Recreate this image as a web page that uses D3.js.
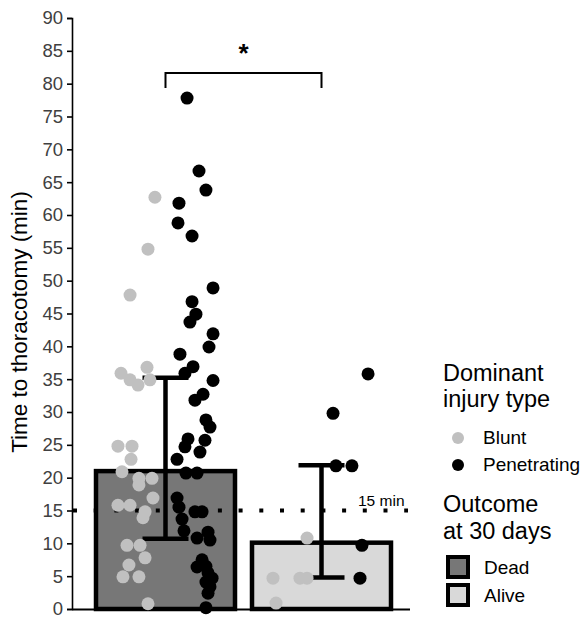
<!DOCTYPE html>
<html>
<head>
<meta charset="utf-8">
<script src="https://cdn.jsdelivr.net/npm/d3@7"></script>
<style>
  body { margin: 0; background: #fff; }
  text { font-family: "Liberation Sans", Arial, sans-serif; }
</style>
</head>
<body>
<div id="T"></div>
<script>
// groups + summary stats
const groups = ["Dead", "Alive"];
const means = [21.0, 10.1];
const errLow = [10.7, 4.8];
const errHigh = [35.2, 21.9];
const yTicks = d3.range(0, 91, 5);
const threshold = 15;

// individual patients: [minutes, jitter as fraction of bar width]
const deadBlunt = [[62.7,-0.076],[54.8,-0.126],[47.8,-0.255],[36.8,-0.133],[35.9,-0.32],[34.9,-0.255],
  [34.1,-0.198],[34.9,-0.112],[24.8,-0.342],[24.8,-0.241],[22.8,-0.248],[20.9,-0.313],[19.9,-0.191],
  [19.9,-0.097],[18.9,-0.191],[16.9,-0.09],[15.8,-0.342],[15.8,-0.255],[14.8,-0.147],[13.9,-0.162],
  [9.7,-0.277],[9.7,-0.183],[7.8,-0.147],[6.7,-0.263],[4.9,-0.306],[4.9,-0.191],[0.8,-0.126]];
const deadPen = [[77.8,0.155],[66.7,0.241],[63.8,0.291],[61.8,0.097],[58.8,0.09],[56.8,0.191],
  [48.9,0.342],[46.8,0.191],[44.9,0.219],[43.7,0.176],[41.9,0.342],[39.9,0.313],[38.8,0.104],
  [36.9,0.198],[35.9,0.14],[34.8,0.342],[32.7,0.27],[31.8,0.212],[28.8,0.291],[27.7,0.32],
  [25.9,0.162],[25.7,0.284],[24.7,0.14],[23.9,0.248],[22.8,0.083],[20.7,0.147],[20.7,0.227],
  [16.9,0.083],[15.5,0.097],[14.8,0.212],[14.8,0.263],[13.7,0.119],[11.9,0.133],[11.7,0.306],
  [10.8,0.227],[10.5,0.32],[7.5,0.263],[6.5,0.291],[6.4,0.227],[5.5,0.306],[4.7,0.335],
  [4.1,0.291],[3.4,0.32],[2.4,0.306],[0.2,0.291]];
const aliveBlunt = [[10.8,-0.104],[4.7,-0.349],[4.7,-0.155],[4.7,-0.104],[0.9,-0.327]];
const alivePen = [[35.8,0.335],[29.8,0.083],[21.8,0.104],[21.8,0.219],[9.7,0.291],[4.7,0.277]];

const barFill = {Dead: "#777777", Alive: "#d9d9d9"};
const typeFill = {Blunt: "#c0c0c0", Penetrating: "#000000"};

const W = 585, H = 620;
const svg = d3.select("#T").append("svg").attr("width", W).attr("height", H);

const y = d3.scaleLinear().domain([0, 90]).range([609, 18]);
const x = d3.scaleBand().domain(groups).range([96, 391]).paddingInner(0.109).paddingOuter(0);
const bw = x.bandwidth();
const cx = g => x(g) + bw / 2;

// y axis
const yAxis = svg.append("g").attr("transform", "translate(72,0)")
  .call(d3.axisLeft(y).tickValues(yTicks).tickSize(5).tickPadding(4));
yAxis.select(".domain").attr("stroke", "#000").attr("stroke-width", 1.6);
yAxis.selectAll(".tick line").attr("stroke", "#000").attr("stroke-width", 1.6);
yAxis.selectAll(".tick text").attr("fill", "#404040").style("font-size", "18.5px")
  .style("font-family", "'Liberation Sans', Arial, sans-serif");

svg.append("text")
  .attr("transform", "translate(27,322) rotate(-90)")
  .attr("text-anchor", "middle")
  .style("font-size", "22.5px")
  .text("Time to thoracotomy (min)");

// bars
svg.selectAll("rect.bar").data(groups).join("rect")
  .attr("class", "bar")
  .attr("x", d => x(d))
  .attr("width", bw)
  .attr("y", (d, i) => y(means[i]))
  .attr("height", (d, i) => y(0) - y(means[i]))
  .attr("fill", d => barFill[d])
  .attr("stroke", "#000")
  .attr("stroke-width", 4.5);

// baseline
svg.append("line").attr("x1", 72).attr("x2", 410).attr("y1", y(0) + 0.5).attr("y2", y(0) + 0.5)
  .attr("stroke", "#000").attr("stroke-width", 2);

// 15 min threshold
svg.append("line")
  .attr("x1", 73).attr("x2", 408)
  .attr("y1", y(threshold)).attr("y2", y(threshold))
  .attr("stroke", "#000").attr("stroke-width", 4)
  .attr("stroke-dasharray", "4 16.7");
svg.append("text").attr("x", 358).attr("y", y(threshold) - 5)
  .style("font-size", "15.5px").text("15 min");

// error bars
const eb = svg.append("g").attr("stroke", "#000").attr("stroke-width", 4.5);
groups.forEach((g, i) => {
  eb.append("line").attr("x1", cx(g)).attr("x2", cx(g)).attr("y1", y(errLow[i])).attr("y2", y(errHigh[i]));
  [errLow[i], errHigh[i]].forEach(v => {
    eb.append("line").attr("x1", cx(g) - 23).attr("x2", cx(g) + 23).attr("y1", y(v)).attr("y2", y(v));
  });
});

// points
const pts = [];
deadBlunt.forEach(p => pts.push({g: "Dead", t: "Blunt", v: p[0], j: p[1]}));
deadPen.forEach(p => pts.push({g: "Dead", t: "Penetrating", v: p[0], j: p[1]}));
aliveBlunt.forEach(p => pts.push({g: "Alive", t: "Blunt", v: p[0], j: p[1]}));
alivePen.forEach(p => pts.push({g: "Alive", t: "Penetrating", v: p[0], j: p[1]}));
svg.selectAll("circle.pt").data(pts).join("circle")
  .attr("class", "pt")
  .attr("cx", d => cx(d.g) + d.j * bw)
  .attr("cy", d => y(d.v))
  .attr("r", 6.5)
  .attr("fill", d => typeFill[d.t]);

// significance bracket
const by = 73;
svg.append("path")
  .attr("d", `M${cx("Dead")},${by + 15}V${by}H${cx("Alive")}V${by + 15}`)
  .attr("fill", "none").attr("stroke", "#000").attr("stroke-width", 2);
svg.append("text").attr("x", (cx("Dead") + cx("Alive")) / 2).attr("y", 62)
  .attr("text-anchor", "middle").style("font-size", "26px").style("font-weight", "bold").text("*");

// legend
const lg = svg.append("g");
lg.append("text").attr("x", 443).attr("y", 381).style("font-size", "23.5px").text("Dominant");
lg.append("text").attr("x", 443).attr("y", 407).style("font-size", "23.5px").text("injury type");
Object.keys(typeFill).forEach((t, i) => {
  lg.append("circle").attr("cx", 458).attr("cy", 438 + i * 27).attr("r", 6).attr("fill", typeFill[t]);
  lg.append("text").attr("x", 483).attr("y", 444 + i * 27).style("font-size", "19px").text(t);
});
lg.append("text").attr("x", 443).attr("y", 512).style("font-size", "23.5px").text("Outcome");
lg.append("text").attr("x", 443).attr("y", 539).style("font-size", "23.5px").text("at 30 days");
groups.forEach((g, i) => {
  lg.append("rect").attr("x", 448).attr("y", 557 + i * 28).attr("width", 20).attr("height", 20)
    .attr("fill", barFill[g]).attr("stroke", "#000").attr("stroke-width", 4);
  lg.append("text").attr("x", 484).attr("y", 574 + i * 28).style("font-size", "19px").text(g);
});
</script>
</body>
</html>
